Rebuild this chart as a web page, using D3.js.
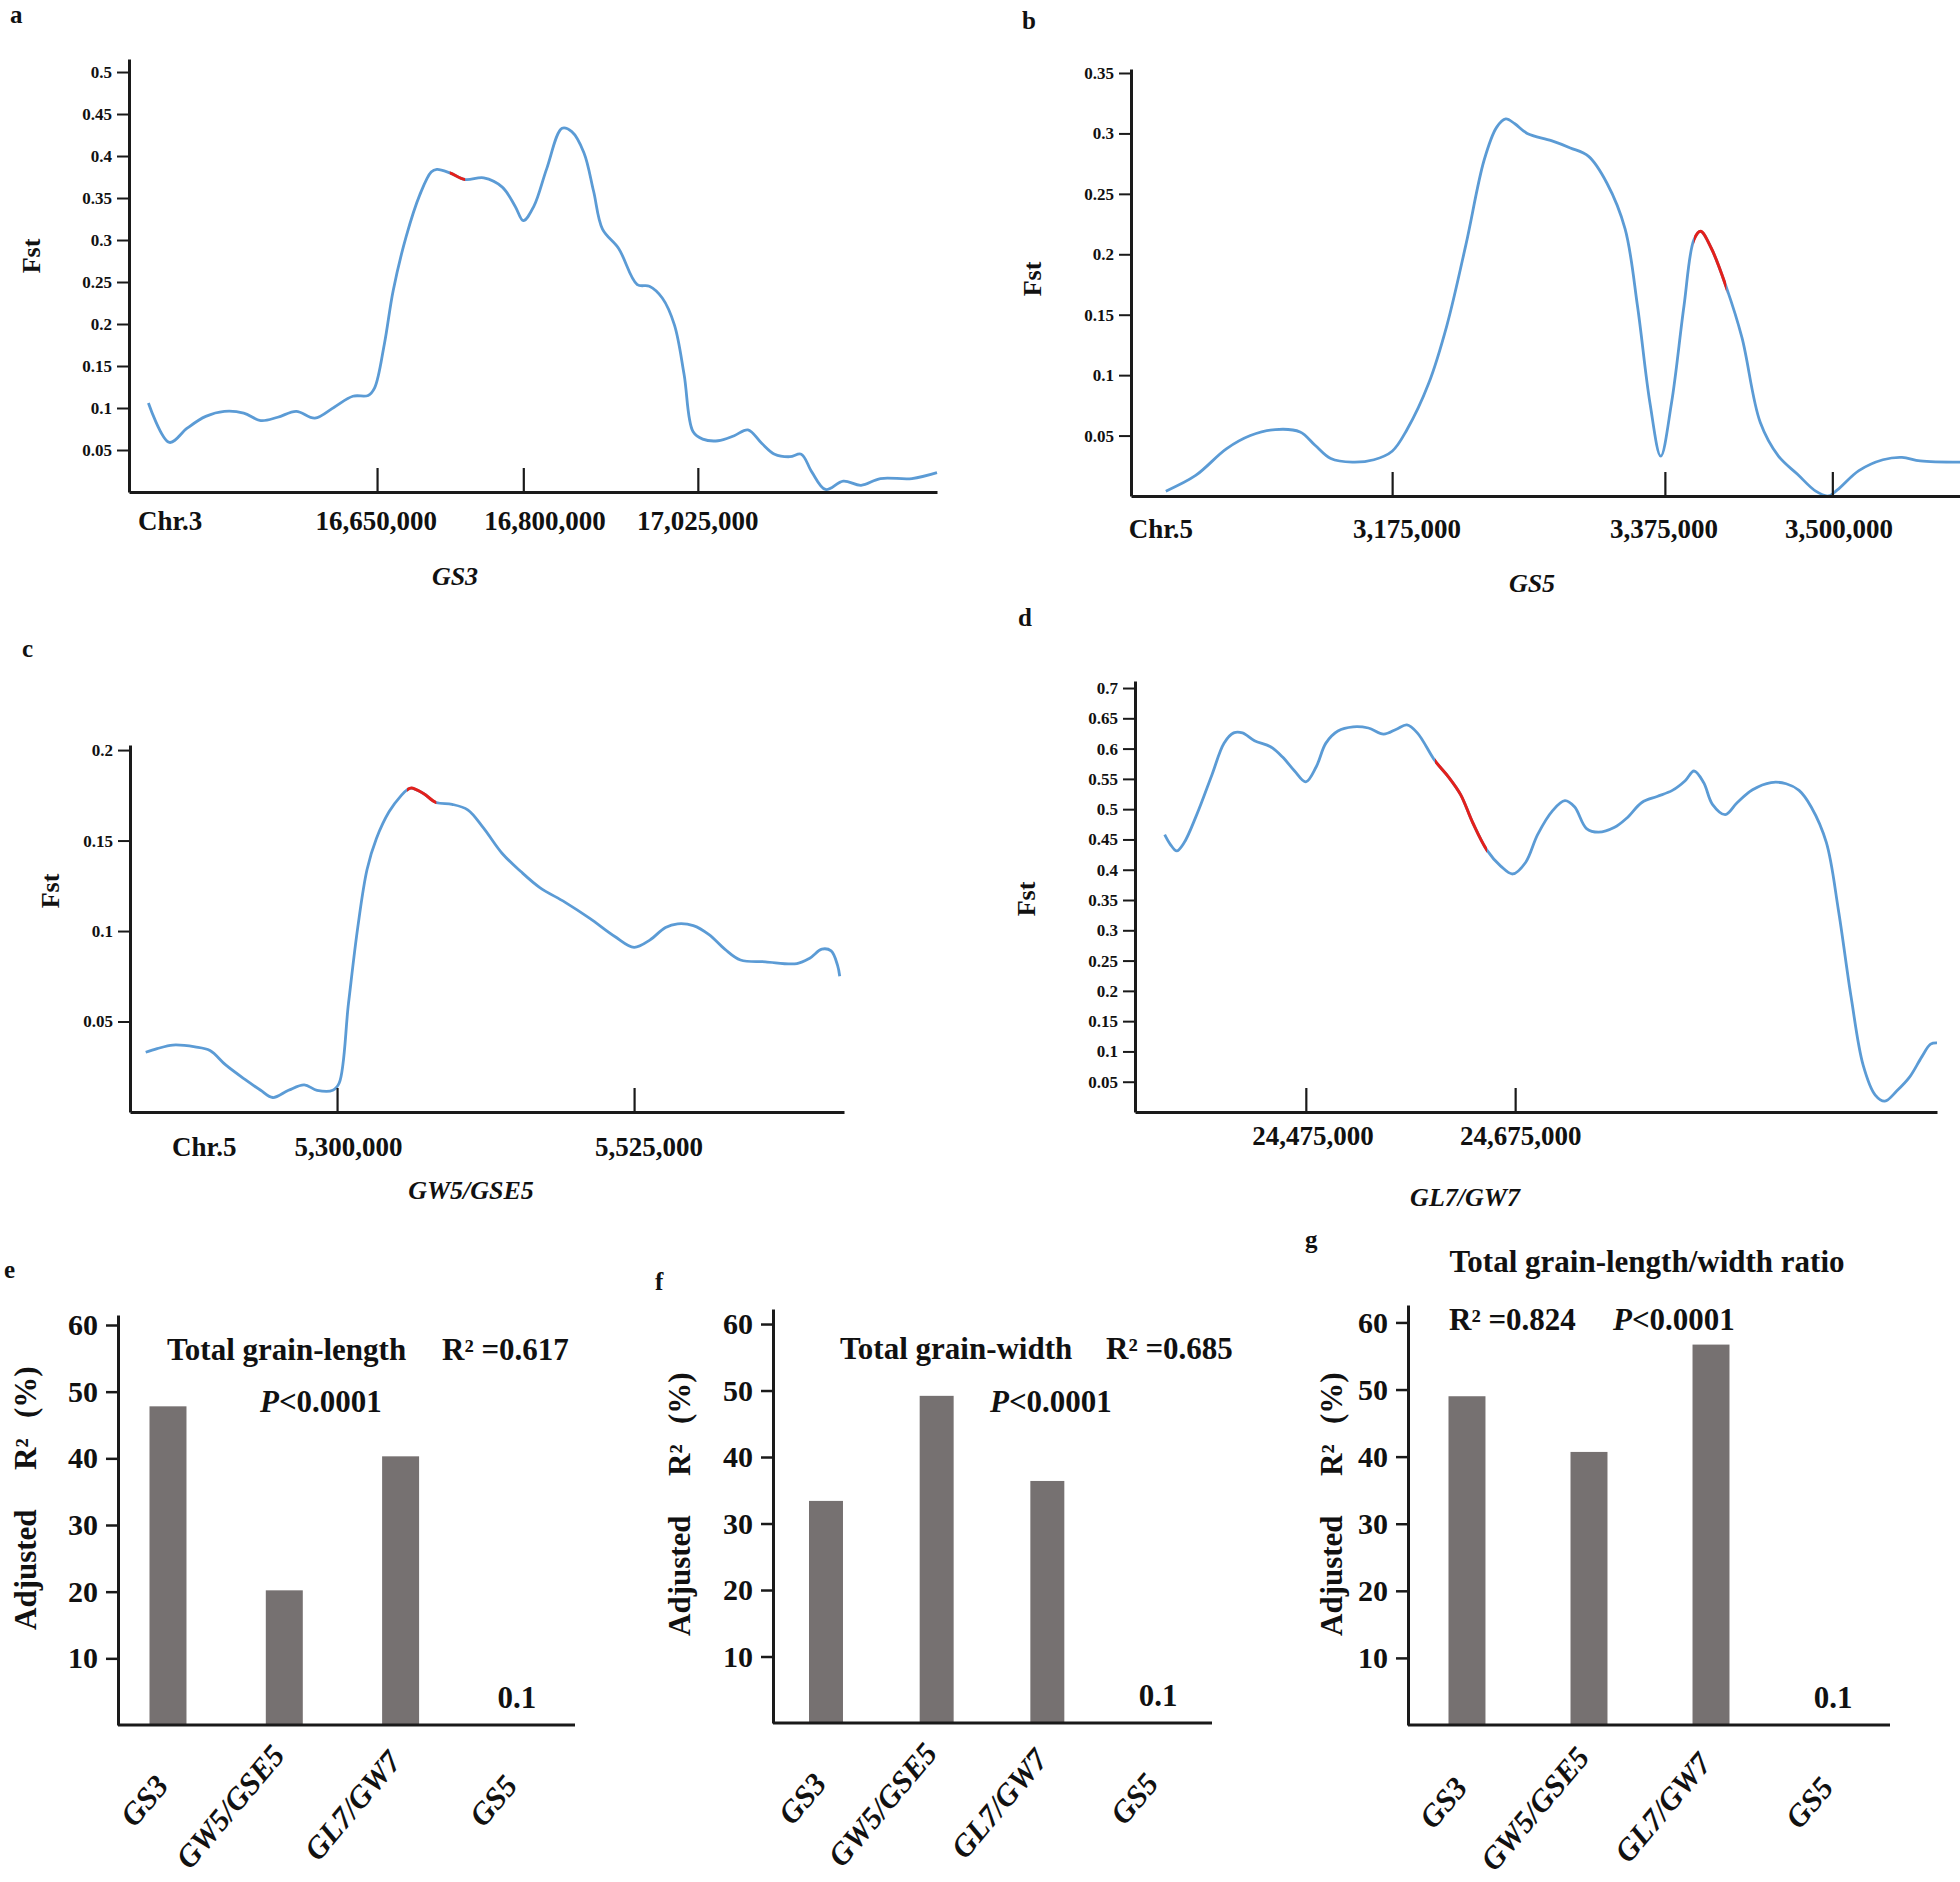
<!DOCTYPE html>
<html><head><meta charset="utf-8">
<script src="https://cdn.jsdelivr.net/npm/d3@7"></script>
<style>
body{margin:0;background:#fff}
svg{display:block}
text{font-family:'Liberation Serif','Times New Roman',serif;font-weight:bold;fill:#111}
</style>
</head><body><script>
// ---------------- DATA ----------------
// Fst curves: [relative position along window (0-100), Fst]
const gs3Curve = [[2.4,0.106],[5.0,0.059],[7.2,0.076],[9.5,0.090],[11.8,0.096],[14.2,0.094],[16.3,0.085],[18.4,0.089],[20.7,0.096],[23.0,0.088],[25.4,0.101],[27.7,0.114],[29.6,0.115],[30.4,0.124],[31.6,0.176],[32.7,0.240],[34.3,0.304],[36.0,0.354],[37.4,0.381],[38.1,0.384],[39.7,0.380],[41.6,0.372],[43.9,0.374],[46.2,0.363],[47.8,0.340],[48.8,0.323],[50.1,0.340],[51.7,0.385],[53.6,0.433],[54.8,0.429],[56.3,0.404],[57.5,0.358],[58.6,0.313],[60.6,0.290],[62.9,0.247],[64.4,0.245],[66.0,0.231],[67.5,0.199],[68.7,0.140],[69.8,0.072],[71.0,0.063],[72.9,0.061],[74.9,0.067],[76.6,0.074],[78.3,0.058],[79.9,0.045],[81.8,0.042],[83.2,0.045],[84.5,0.024],[86.2,0.003],[88.4,0.013],[90.6,0.008],[93.0,0.016],[96.9,0.016],[100,0.023]];
const gs3Highlight = [39.7, 41.6];
const gs3YTicks = [0.05,0.1,0.15,0.2,0.25,0.3,0.35,0.4,0.45,0.5];
const gs3XTicks = [30.7, 48.8, 70.4];
const gs3XLabels = [[5.1,"Chr.3"],[30.6,"16,650,000"],[51.5,"16,800,000"],[70.4,"17,025,000"]];

const gs5Curve = [[4.2,0.004],[7.8,0.017],[11.5,0.039],[14.4,0.050],[17.4,0.055],[20.4,0.053],[22.2,0.042],[24.1,0.031],[26.7,0.028],[29.3,0.030],[31.5,0.037],[33.3,0.055],[35.9,0.093],[38.1,0.141],[40.4,0.208],[42.6,0.278],[44.1,0.305],[45.2,0.312],[46.3,0.308],[47.8,0.300],[50.7,0.294],[53.0,0.288],[55.2,0.281],[57.4,0.259],[59.6,0.221],[61.1,0.157],[62.6,0.077],[63.9,0.033],[65.2,0.077],[66.7,0.157],[67.9,0.212],[68.7,0.219],[70.0,0.205],[71.8,0.173],[73.7,0.131],[75.9,0.061],[78.1,0.033],[80.4,0.018],[82.6,0.004],[84.1,0.000],[85.2,0.005],[87.8,0.021],[90.7,0.030],[93.0,0.032],[95.2,0.029],[100,0.028]];
const gs5Highlight = [67.9, 71.8];
const gs5YTicks = [0.05,0.1,0.15,0.2,0.25,0.3,0.35];
const gs5XTicks = [31.5, 64.4, 84.6];
const gs5XLabels = [[3.6,"Chr.5"],[33.3,"3,175,000"],[64.3,"3,375,000"],[85.4,"3,500,000"]];

const gw5Curve = [[2.2,0.033],[3.8,0.035],[6.0,0.037],[9.1,0.036],[11.2,0.034],[13.4,0.026],[16.1,0.018],[18.3,0.012],[20.0,0.008],[22.2,0.012],[24.4,0.015],[26.2,0.012],[28.4,0.012],[29.3,0.016],[30.6,0.060],[31.9,0.102],[33.2,0.134],[34.5,0.151],[36.3,0.166],[38.0,0.175],[38.8,0.178],[39.4,0.179],[41.1,0.176],[42.9,0.171],[45.1,0.170],[47.3,0.167],[49.5,0.157],[52.1,0.143],[54.7,0.133],[57.4,0.124],[60.9,0.116],[64.4,0.107],[67.9,0.097],[70.6,0.091],[72.8,0.095],[75.0,0.102],[76.7,0.104],[78.9,0.103],[81.1,0.098],[83.3,0.090],[85.5,0.084],[89.0,0.083],[93.4,0.082],[95.2,0.085],[96.9,0.090],[98.2,0.089],[99.1,0.081],[99.4,0.075]];
const gw5Highlight = [38.8, 42.9];
const gw5YTicks = [0.05,0.1,0.15,0.2];
const gw5XTicks = [29.0, 70.6];
const gw5XLabels = [[10.4,"Chr.5"],[30.6,"5,300,000"],[72.7,"5,525,000"]];

const gl7Curve = [[3.7,0.458],[4.4,0.442],[5.2,0.431],[6.1,0.444],[7.7,0.491],[9.6,0.557],[11.1,0.609],[12.3,0.626],[13.4,0.626],[14.9,0.613],[16.9,0.603],[18.4,0.586],[19.9,0.563],[21.3,0.545],[22.6,0.570],[23.8,0.609],[25.3,0.629],[27.2,0.636],[29.1,0.634],[31.0,0.624],[32.6,0.632],[33.9,0.639],[35.2,0.626],[37.4,0.580],[39.1,0.553],[40.6,0.524],[42.1,0.478],[43.9,0.432],[45.6,0.406],[47.1,0.393],[48.7,0.412],[50.2,0.458],[52.1,0.498],[53.6,0.514],[54.8,0.504],[56.3,0.468],[57.8,0.462],[59.8,0.470],[61.3,0.485],[63.2,0.511],[65.1,0.521],[67.0,0.531],[68.6,0.547],[69.7,0.563],[70.9,0.544],[72.0,0.508],[73.6,0.491],[75.1,0.511],[77.0,0.532],[79.3,0.544],[81.2,0.542],[82.8,0.531],[84.3,0.504],[86.2,0.445],[87.7,0.334],[89.3,0.189],[90.8,0.077],[92.3,0.028],[93.5,0.018],[95.0,0.035],[96.6,0.058],[98.1,0.091],[99.2,0.112],[100,0.114]];
const gl7Highlight = [37.4, 43.9];
const gl7YTicks = [0.05,0.1,0.15,0.2,0.25,0.3,0.35,0.4,0.45,0.5,0.55,0.6,0.65,0.7];
const gl7XTicks = [21.3, 47.4];
const gl7XLabels = [[22.2,"24,475,000"],[48.1,"24,675,000"]];

const fstGenes = ["GS3","GS5","GW5/GSE5","GL7/GW7"];

// Bar charts: adjusted R2 (%)
const barCategories = ["GS3","GW5/GSE5","GL7/GW7","GS5"];
const lengthR2 = [47.8, 20.2, 40.3, 0.1];
const widthR2 = [33.4, 49.2, 36.4, 0.1];
const ratioR2 = [49.0, 40.7, 56.7, 0.1];
const barYTicks = [10,20,30,40,50,60];
const traitTitles = ["Total grain-length","Total grain-width","Total grain-length/width ratio"];
const modelR2 = ["0.617","0.685","0.824"];
const modelP = "<0.0001";

// ---------------- DRAW ----------------
const svg = d3.select("body").append("svg").attr("width",1960).attr("height",1882);
const BLUE = "#5b9bd5", RED = "#e3201b", AX = "#1a1a1a";

function letter(t,x,y){
  svg.append("text").attr("x",x).attr("y",y).attr("font-size",25).text(t);
}

function fstPanel(L, curve, hl, yTicks, xTicks, xLabels, gene){
  const g = svg.append("g");
  const x = d3.scaleLinear().domain([0,100]).range([L.x0,L.x1]);
  const y = d3.scaleLinear().domain([0,L.yMax]).range([L.yBase,L.yTop]);
  const line = d3.line().x(d=>x(d[0])).y(d=>y(d[1])).curve(d3.curveCatmullRom.alpha(0.5));
  g.append("path").attr("d",line(curve)).attr("fill","none").attr("stroke",BLUE).attr("stroke-width",2.8);
  const red = curve.filter(d=>d[0]>=hl[0]&&d[0]<=hl[1]);
  const i0 = curve.findIndex(d=>d[0]>=hl[0]);
  const seg = curve.slice(Math.max(0,i0-1), i0+red.length+1);
  const cid = "clip"+Math.round(L.x0)+"_"+Math.round(L.yBase);
  g.append("clipPath").attr("id",cid).append("rect")
    .attr("x",x(hl[0])).attr("width",x(hl[1])-x(hl[0])).attr("y",L.yTop-20).attr("height",L.yBase-L.yTop+40);
  g.append("path").attr("d",line(seg)).attr("fill","none").attr("stroke",RED).attr("stroke-width",3)
    .attr("clip-path",`url(#${cid})`);

  const ya = g.append("g").attr("transform",`translate(${L.x0},0)`)
    .call(d3.axisLeft(y).tickValues(yTicks).tickSize(12).tickSizeOuter(0).tickPadding(5).tickFormat(d=>String(+d.toFixed(2))));
  ya.select(".domain").attr("stroke",AX).attr("stroke-width",3);
  ya.selectAll(".tick line").attr("stroke",AX).attr("stroke-width",2);
  ya.selectAll(".tick text").attr("font-size",17).attr("font-family","'Liberation Serif',serif").attr("font-weight","bold").attr("fill","#111");

  const xa = g.append("g").attr("transform",`translate(0,${y(0)})`)
    .call(d3.axisBottom(x).tickValues(xTicks).tickSize(-24).tickSizeOuter(0).tickFormat(""));
  xa.select(".domain").attr("stroke",AX).attr("stroke-width",3);
  xa.selectAll(".tick line").attr("stroke",AX).attr("stroke-width",2.2);

  g.selectAll("text.xl").data(xLabels).enter().append("text").attr("class","xl")
    .attr("x",d=>x(d[0])).attr("y",L.labelY).attr("text-anchor","middle").attr("font-size",27).text(d=>d[1]);
  g.append("text").attr("x",L.geneX).attr("y",L.geneY).attr("text-anchor","middle")
    .attr("font-size",26).attr("font-style","italic").text(gene);
  g.append("text").attr("transform",`translate(${L.fstX},${L.fstY}) rotate(-90)`)
    .attr("text-anchor","middle").attr("dominant-baseline","central").attr("font-size",26).text("Fst");
}

fstPanel({x0:129,x1:937,yBase:492,yTop:59,yMax:0.5155,labelY:530,geneX:455,geneY:585,fstX:31,fstY:256},
  gs3Curve, gs3Highlight, gs3YTicks, gs3XTicks, gs3XLabels, fstGenes[0]);
fstPanel({x0:1131,x1:1960,yBase:496,yTop:69,yMax:0.3533,labelY:538,geneX:1532,geneY:592,fstX:1032,fstY:279},
  gs5Curve, gs5Highlight, gs5YTicks, gs5XTicks, gs5XLabels, fstGenes[1]);
fstPanel({x0:130,x1:844,yBase:1112,yTop:745,yMax:0.2028,labelY:1156,geneX:471,geneY:1199,fstX:50,fstY:891},
  gw5Curve, gw5Highlight, gw5YTicks, gw5XTicks, gw5XLabels, fstGenes[2]);
fstPanel({x0:1135,x1:1937,yBase:1112,yTop:681,yMax:0.7116,labelY:1145,geneX:1465,geneY:1206,fstX:1026,fstY:899},
  gl7Curve, gl7Highlight, gl7YTicks, gl7XTicks, gl7XLabels, fstGenes[3]);

letter("a",10,23); letter("b",1022,29); letter("c",22,657); letter("d",1018,626);
letter("e",4,1278); letter("f",655,1290); letter("g",1305,1248);

function barPanel(L, values, titleFn){
  const g = svg.append("g");
  const y = d3.scaleLinear().domain([0,L.yMax]).range([L.yBase,L.yTop]);
  const x = d3.scaleBand().domain(barCategories).range(L.band).paddingInner(L.pad).paddingOuter(0);
  g.selectAll("rect").data(barCategories.map((c,i)=>({c,v:values[i]}))).enter().append("rect")
    .attr("x",d=>x(d.c)).attr("width",x.bandwidth()).attr("y",d=>y(d.v)).attr("height",d=>y(0)-y(d.v))
    .attr("fill","#767171");
  const ya = g.append("g").attr("transform",`translate(${L.ax},0)`)
    .call(d3.axisLeft(y).tickValues(barYTicks).tickSize(12).tickSizeOuter(0).tickPadding(8));
  ya.select(".domain").attr("stroke",AX).attr("stroke-width",3);
  ya.selectAll(".tick line").attr("stroke",AX).attr("stroke-width",2.5);
  ya.selectAll(".tick text").attr("font-size",30).attr("font-family","'Liberation Serif',serif").attr("font-weight","bold").attr("fill","#111");
  g.append("line").attr("x1",L.ax).attr("x2",L.xEnd).attr("y1",y(0)).attr("y2",y(0)).attr("stroke",AX).attr("stroke-width",3);
  g.selectAll("text.v").data(barCategories.map((c,i)=>({c,v:values[i]})).filter(d=>d.v<1)).enter().append("text")
    .attr("x",d=>x(d.c)+x.bandwidth()/2).attr("y",d=>y(d.v)-16).attr("text-anchor","middle").attr("font-size",31).text(d=>d.v);
  g.selectAll("text.cat").data(barCategories).enter().append("text")
    .attr("text-anchor","end").attr("font-size",31).attr("font-style","italic").text(d=>d)
    .each(function(d){
      const len = this.getComputedTextLength();
      d3.select(this).attr("transform",`translate(${x(d)+x.bandwidth()/2+2},${L.catY-0.32*len}) rotate(-50)`);
    });
  const yl = g.append("g").attr("transform",`translate(${L.ylabX},${L.ylabY}) rotate(-90)`);
  yl.append("text").attr("x",0).attr("font-size",31).text("Adjusted");
  yl.append("text").attr("x",160).attr("font-size",31).text("R²");
  yl.append("text").attr("x",212).attr("font-size",31).text("(%)");
  titleFn(g);
}

function pText(g,x,y){
  const t = g.append("text").attr("x",x).attr("y",y).attr("font-size",31);
  t.append("tspan").attr("font-style","italic").text("P");
  t.append("tspan").text(modelP);
}

barPanel({ax:118,xEnd:575,yBase:1725,yTop:1315,yMax:61.5,band:[149.5,535.4],pad:0.682,catY:1804,ylabX:36,ylabY:1630},
  lengthR2, g=>{
    g.append("text").attr("x",167).attr("y",1360).attr("font-size",31).text(traitTitles[0]);
    g.append("text").attr("x",442).attr("y",1360).attr("font-size",31).text("R² ="+modelR2[0]);
    pText(g,260,1412);
  });
barPanel({ax:773,xEnd:1212,yBase:1723,yTop:1309,yMax:62.26,band:[809,1175],pad:0.693,catY:1802,ylabX:690,ylabY:1636},
  widthR2, g=>{
    g.append("text").attr("x",840).attr("y",1359).attr("font-size",31).text(traitTitles[1]);
    g.append("text").attr("x",1106).attr("y",1359).attr("font-size",31).text("R² ="+modelR2[1]);
    pText(g,990,1412);
  });
barPanel({ax:1408,xEnd:1890,yBase:1725,yTop:1305,yMax:62.6,band:[1448.5,1851.5],pad:0.697,catY:1806,ylabX:1342,ylabY:1636},
  ratioR2, g=>{
    g.append("text").attr("x",1647).attr("y",1272).attr("text-anchor","middle").attr("font-size",31).text(traitTitles[2]);
    g.append("text").attr("x",1449).attr("y",1330).attr("font-size",31).text("R² ="+modelR2[2]);
    pText(g,1613,1330);
  });
</script></body></html>
